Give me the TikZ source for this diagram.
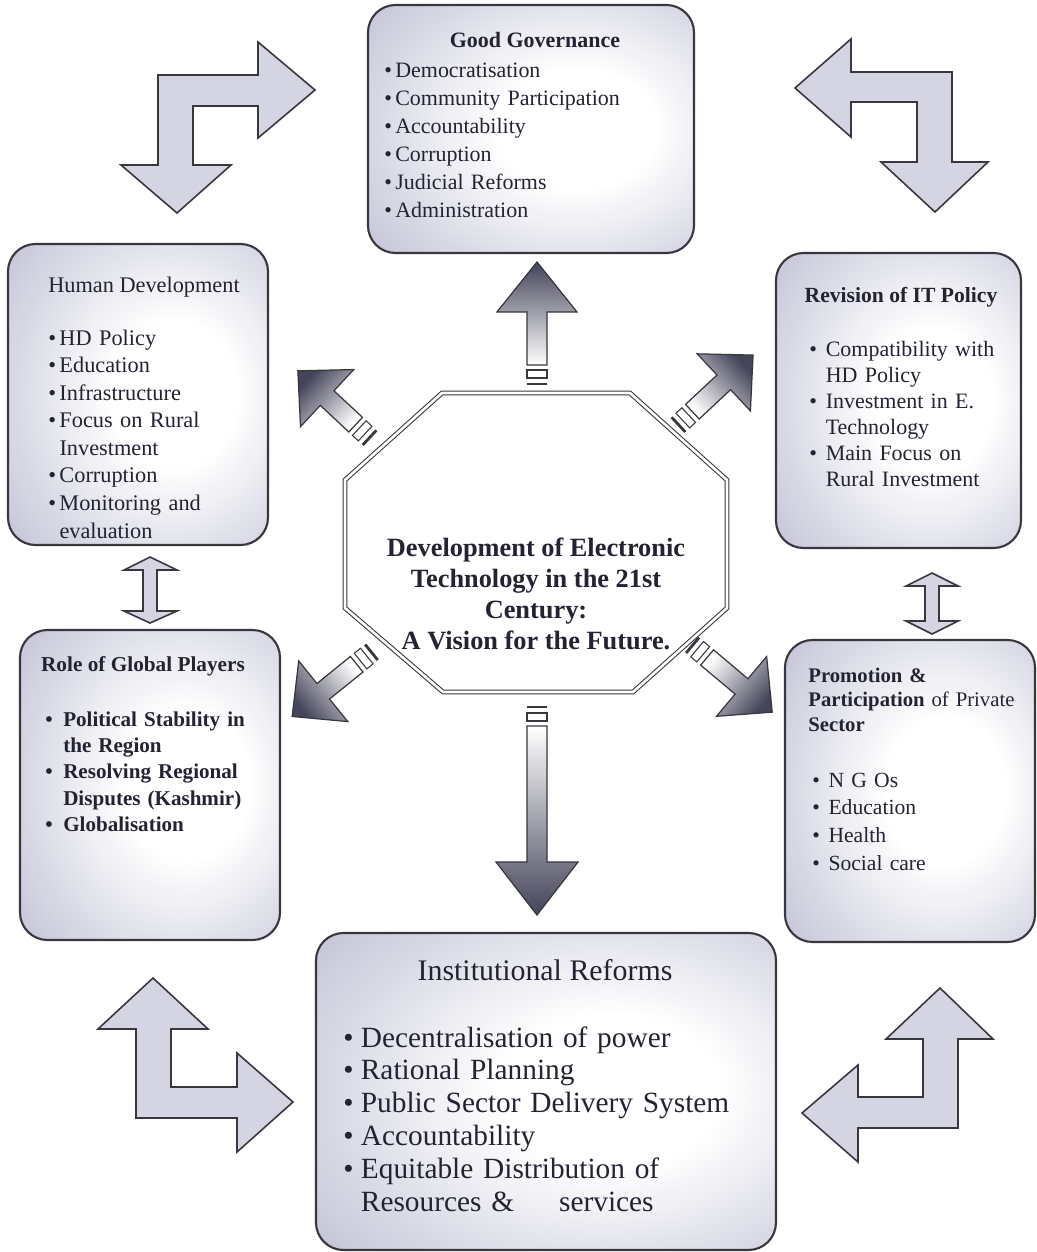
\documentclass[tikz,border=0pt]{standalone}
\usepackage{fontspec}
\setmainfont{Liberation Serif}
\usepackage{tikz}
\usetikzlibrary{
    calc,
    fit
}

\definecolor{inkgray}{RGB}{35,35,50}
\definecolor{panelgray}{RGB}{176,176,202}
\definecolor{linegray}{RGB}{55,55,62}
\definecolor{arrowdark}{RGB}{68,68,90}
\definecolor{lfill}{RGB}{212,212,226}

\pgfdeclareradialshading{panelglow}{\pgfpoint{8bp}{0bp}}{color(0bp)=(white); color(12bp)=(white);
  color(48bp)=(panelgray); color(100bp)=(panelgray)}

\newcommand{\itm}[1][0.75em]{\makebox[#1][l]{\textbullet}}
\newcommand{\cont}[1][0.75em]{\hspace*{#1}}

\begin{document}
\begin{tikzpicture}[x=0.02cm, y=-0.02cm,
    panel/.style={draw=linegray, line width=1.2pt, rounded corners=0.55cm,
        shade, shading=panelglow, inner sep=0pt},
    larrow/.style={draw=linegray, line width=0.9pt, fill=lfill},
    garrow/.style={draw=linegray, line width=0.7pt, top color=arrowdark, bottom color=white},
    hd/.style={text=inkgray, anchor=base, inner sep=0pt},
    lst/.style={text=inkgray, anchor=base west, inner sep=0pt, text width=9cm, align=left}]

\useasboundingbox (0,0) rectangle (1037,1252);
\fill[white] (0,0) rectangle (1037,1252);

% Panels
\node[panel, fit={(368,5) (694,253)}] (gov) {};
\node[panel, fit={(8,244) (268,545)}] (hum) {};
\node[panel, fit={(776,253) (1021,548)}] (rev) {};
\node[panel, fit={(20,630) (280,940)}] (glob) {};
\node[panel, fit={(785,640) (1035,942)}] (priv) {};
\node[panel, fit={(316,933) (776,1250)}] (inst) {};

% Good governance
\node[hd, font=\bfseries\fontsize{12.5}{16}\selectfont] (govT) at (535,47) {Good Governance};
\node[lst, font=\fontsize{12.5}{16}\selectfont] (govL) at (384,77)
  {\itm[0.5em]Democratisation\\\itm[0.5em]Community Participation\\\itm[0.5em]Accountability\\
   \itm[0.5em]Corruption\\\itm[0.5em]Judicial Reforms\\\itm[0.5em]Administration};

% Human development (last line cut by the frame)
\node[hd, font=\fontsize{12.7}{15.7}\selectfont] (humT) at (144,292) {Human Development};
\begin{scope}
  \clip[rounded corners=0.55cm] (8,244) rectangle (268,541);
  \node[lst, font=\fontsize{12.7}{15.7}\selectfont] (humL) at (48,345)
    {\itm[0.5em]HD Policy\\\itm[0.5em]Education\\\itm[0.5em]Infrastructure\\
     \itm[0.5em]Focus on Rural\\\cont[0.5em]Investment\\\itm[0.5em]Corruption\\
     \itm[0.5em]Monitoring and\\\cont[0.5em]evaluation};
\end{scope}

% IT policy
\node[hd, font=\bfseries\fontsize{12.3}{15}\selectfont] (revT) at (901,302) {Revision of IT Policy};
\node[lst, font=\fontsize{12.5}{14.9}\selectfont] (revL) at (809,356)
  {\itm Compatibility with\\\cont HD Policy\\\itm Investment in E.\\\cont Technology\\
   \itm Main Focus on\\\cont Rural Investment};

% Global players
\node[hd, font=\bfseries\fontsize{12.1}{15}\selectfont] (globT) at (143,671) {Role of Global Players};
\node[lst, font=\bfseries\fontsize{12}{15}\selectfont] (globL) at (45,726)
  {\itm[0.85em]Political Stability in\\\cont[0.85em]the Region\\\itm[0.85em]Resolving Regional\\
   \cont[0.85em]Disputes (Kashmir)\\\itm[0.85em]Globalisation};

% Private sector
\node[lst, font=\bfseries\fontsize{11.8}{14.2}\selectfont] (privT) at (808,682)
  {Promotion \&\\Participation {\mdseries of Private}\\Sector};
\node[lst, font=\fontsize{12.3}{15.9}\selectfont] (privL) at (812,787)
  {\itm N G Os\\\itm Education\\\itm Health\\\itm Social care};

% Institutional reforms
\node[hd, font=\fontsize{17}{20}\selectfont] (instT) at (545,980) {Institutional Reforms};
\node[lst, font=\fontsize{16.7}{18.7}\selectfont] (instL) at (343,1047)
  {\itm[0.6em]Decentralisation of power\\\itm[0.6em]Rational Planning\\
   \itm[0.6em]Public Sector Delivery System\\\itm[0.6em]Accountability\\
   \itm[0.6em]Equitable Distribution of\\\cont[0.6em]Resources \&\hspace{1.2em} services};

% Central octagon
\draw[linegray, double=white, double distance=1.5pt, line width=0.6pt]
  (442,393) -- (630,393) -- (727,480) -- (727,608) -- (633,692) -- (443,692) -- (345,608) -- (345,480) -- cycle;
\node[text=inkgray, align=center, font=\bfseries\fontsize{15}{17.6}\selectfont] (core) at (536,594)
  {Development of Electronic\\Technology in the 21st\\Century:\\A Vision for the Future.};

% Shaded arrows out of the octagon
\foreach \tx/\ty/\ang/\len/\hl/\hw in {537/386/90/124/50/40, 537/705/-90/210/53/41,
    371/439/137/100/40/39, 677/426/43/104/40/39, 373/651/219/104/40/39, 691/644/-40/106/40/39}{
  \pgfmathsetmacro\sang{\ang-90}
  \begin{scope}[shift={(\tx,\ty)}, rotate=\ang]
    \draw[garrow, shading angle=\sang] (21,-10) -- ({\len-\hl},-10) -- ({\len-\hl},-\hw) -- (\len,0)
      -- ({\len-\hl},\hw) -- ({\len-\hl},10) -- (21,10) -- cycle;
    \draw[linegray, line width=0.6pt, fill=white] (8,-10) rectangle (16,10);
    \draw[linegray, line width=1.6pt] (2,-10) -- (2,10);
  \end{scope}
}

% Corner arrows
\draw[larrow] (315,90) -- (258,42) -- (258,75) -- (158,75) -- (158,165) -- (121,165) -- (177,213)
  -- (231,165) -- (193,165) -- (193,106) -- (258,106) -- (258,138) -- cycle;
\draw[larrow] (795,88) -- (851,39) -- (851,72) -- (952,72) -- (952,162) -- (988,162) -- (935,212)
  -- (881,162) -- (917,162) -- (917,102) -- (851,102) -- (851,137) -- cycle;
\draw[larrow] (153,978) -- (208,1029) -- (171,1029) -- (171,1087) -- (237,1087) -- (237,1053) -- (293,1102)
  -- (237,1152) -- (237,1118) -- (136,1118) -- (136,1029) -- (98,1029) -- cycle;
\draw[larrow] (940,988) -- (993,1039) -- (958,1039) -- (958,1128) -- (858,1128) -- (858,1162) -- (802,1113)
  -- (858,1065) -- (858,1097) -- (923,1097) -- (923,1039) -- (886,1039) -- cycle;

% Double arrows between side panels
\draw[larrow] (150,557) -- (177,570) -- (157,570) -- (157,611) -- (177,611) -- (150,623)
  -- (124,611) -- (143,611) -- (143,570) -- (124,570) -- cycle;
\draw[larrow] (932,573) -- (958,586) -- (939,586) -- (939,621) -- (958,621) -- (932,634)
  -- (906,621) -- (925,621) -- (925,586) -- (906,586) -- cycle;

\end{tikzpicture}
\end{document}
